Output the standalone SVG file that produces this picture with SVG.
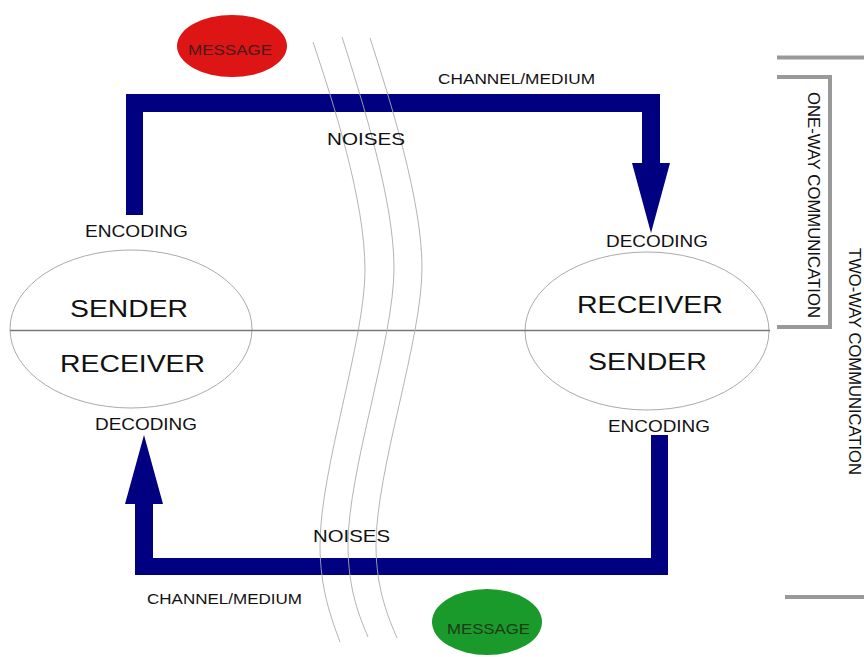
<svg xmlns="http://www.w3.org/2000/svg" width="864" height="657" viewBox="0 0 864 657">
<style>
  .t { font-family: "Liberation Sans", Arial, sans-serif; fill: #111; }
  .lbl { font-size: 17px; }
  .ch { font-size: 15px; }
  .big { font-size: 24px; }
  .msg { font-size: 15px; }
  .node { fill: #fff; stroke: #aaa; stroke-width: 1; }
  .arrow { fill: #000080; }
  .noise { fill: none; stroke: #aaa; stroke-width: 0.9; }
  .brk { fill: none; stroke: #999; stroke-width: 4; }
</style>
<rect width="864" height="657" fill="#fff"/>

<g id="sender-left">
  <ellipse class="node" cx="131" cy="329" rx="121" ry="79"/>
  <text class="t big" x="70" y="317" textLength="118" lengthAdjust="spacingAndGlyphs">SENDER</text>
  <text class="t big" x="60" y="372" textLength="145" lengthAdjust="spacingAndGlyphs">RECEIVER</text>
</g>

<g id="receiver-right">
  <ellipse class="node" cx="647" cy="331" rx="122" ry="79"/>
  <text class="t big" x="577" y="313" textLength="146" lengthAdjust="spacingAndGlyphs">RECEIVER</text>
  <text class="t big" x="588" y="370" textLength="119" lengthAdjust="spacingAndGlyphs">SENDER</text>
</g>

<line x1="10" y1="330.5" x2="770" y2="330.5" stroke="#777" stroke-width="1.3"/>

<g id="connectors">
  <path class="arrow" d="M126,215 L126,94 L660,94 L660,163 L670,163 L651,233 L632,163 L642,163 L642,112 L143,112 L143,215 Z"/>
  <path class="arrow" d="M668,435 L668,575 L135,575 L135,504 L125,504 L144,435 L163,504 L153,504 L153,558 L651,558 L651,435 Z"/>
</g>

<g id="noises">
  <path class="noise" d="M313,42 C333,102 365,200 365,270 C365,340 320,470 320,545 C320,590 332,620 340,642"/>
  <path class="noise" d="M342,37 C362,100 394,200 394,268 C394,340 348,470 348,545 C348,590 360,618 368,637"/>
  <path class="noise" d="M370,38 C390,100 422,200 422,268 C422,340 376,470 376,545 C376,590 389,619 397,638"/>
</g>

<g id="message-top">
  <ellipse cx="232" cy="46" rx="55" ry="31" fill="#dd1515"/>
  <text class="t msg" x="188" y="55" textLength="84" lengthAdjust="spacingAndGlyphs" style="fill:#4a1a1a">MESSAGE</text>
</g>

<g id="message-bottom">
  <ellipse cx="487" cy="622" rx="55" ry="33" fill="#1a9a2a"/>
  <text class="t msg" x="447" y="634" textLength="83" lengthAdjust="spacingAndGlyphs" style="fill:#1a3a1a">MESSAGE</text>
</g>

<g id="labels">
  <text class="t lbl" x="85" y="237" textLength="103" lengthAdjust="spacingAndGlyphs">ENCODING</text>
  <text class="t lbl" x="606" y="247" textLength="102" lengthAdjust="spacingAndGlyphs">DECODING</text>
  <text class="t lbl" x="95" y="430" textLength="102" lengthAdjust="spacingAndGlyphs">DECODING</text>
  <text class="t lbl" x="608" y="432" textLength="102" lengthAdjust="spacingAndGlyphs">ENCODING</text>
  <text class="t ch" x="438" y="84" textLength="157" lengthAdjust="spacingAndGlyphs">CHANNEL/MEDIUM</text>
  <text class="t ch" x="147" y="604" textLength="155" lengthAdjust="spacingAndGlyphs">CHANNEL/MEDIUM</text>
  <text class="t lbl" x="327" y="145" textLength="78" lengthAdjust="spacingAndGlyphs">NOISES</text>
  <text class="t lbl" x="313" y="542" textLength="77" lengthAdjust="spacingAndGlyphs">NOISES</text>
</g>

<g id="one-way">
  <polyline class="brk" points="777,77 830,77 830,327 777,327"/>
  <text class="t" font-size="16" transform="translate(808,92) rotate(90)" textLength="226" lengthAdjust="spacingAndGlyphs">ONE-WAY COMMUNICATION</text>
</g>

<g id="two-way">
  <line class="brk" x1="777" y1="57.5" x2="864" y2="57.5"/>
  <line class="brk" x1="785" y1="597" x2="864" y2="597"/>
  <text class="t" font-size="16" transform="translate(849,248) rotate(90)" textLength="227" lengthAdjust="spacingAndGlyphs">TWO-WAY COMMUNICATION</text>
</g>
</svg>
